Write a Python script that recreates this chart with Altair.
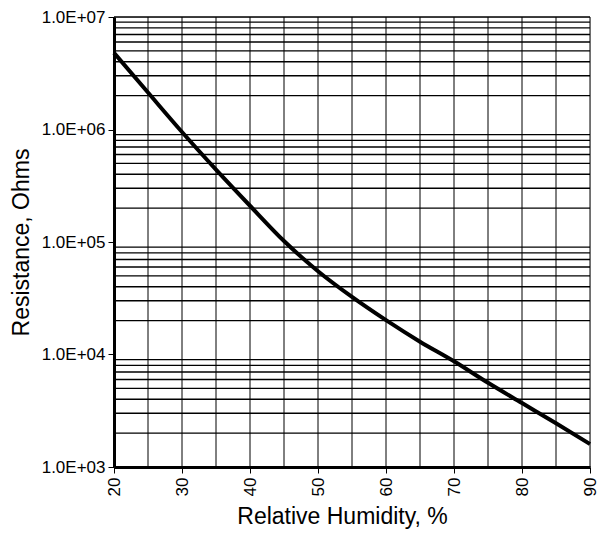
import altair as alt
import pandas as pd

humidity = [20, 25, 30, 35, 40, 45, 50, 55, 60, 65, 70, 75, 80, 85, 90]
resistance = [4.8e6, 2.13e6, 9.5e5, 4.4e5, 2.1e5, 1.02e5, 5.5e4, 3.25e4, 2.02e4, 1.3e4, 8.7e3, 5.6e3, 3.7e3, 2.45e3, 1.6e3]

x_ticks = [20, 30, 40, 50, 60, 70, 80, 90]
x_grid = [25, 30, 35, 40, 45, 50, 55, 60, 65, 70, 75, 80, 85, 90]
y_ticks = [1e3, 1e4, 1e5, 1e6, 1e7]
y_grid = [m * 10 ** e for e in range(3, 7) for m in range(2, 10)] + [1e7]

curve = pd.DataFrame({"h": humidity, "r": resistance})
hgrid = pd.DataFrame({"r": y_grid})
vgrid = pd.DataFrame({"h": x_grid})

xscale = alt.Scale(domain=[20, 90], nice=False, zero=False)
yscale = alt.Scale(type="log", domain=[1e3, 1e7], nice=False)

font = "Liberation Sans"

hrules = alt.Chart(hgrid).mark_rule(color="black", strokeWidth=1.4).encode(
    y=alt.Y("r:Q", scale=yscale)
)
vrules = alt.Chart(vgrid).mark_rule(color="black", strokeWidth=1).encode(
    x=alt.X("h:Q", scale=xscale)
)

line = alt.Chart(curve).mark_line(color="black", strokeWidth=4, interpolate="monotone").encode(
    x=alt.X(
        "h:Q",
        scale=xscale,
        axis=alt.Axis(
            values=x_ticks,
            title="Relative Humidity, %",
            titleX=228,
            labelAngle=270,
            labelAlign="right",
            labelBaseline="middle",
            labelPadding=4,
            titlePadding=10,
            grid=False,
            domainColor="black",
            domainWidth=3,
            tickColor="black",
            tickSize=6,
            labelColor="black",
            titleColor="black",
            labelFont=font,
            titleFont=font,
            labelFontSize=17,
            titleFontSize=23,
            titleFontWeight="normal",
        ),
    ),
    y=alt.Y(
        "r:Q",
        scale=yscale,
        axis=alt.Axis(
            values=y_ticks,
            title="Resistance, Ohms",
            labelExpr="'1.0E+0' + round(log(datum.value) / LN10)",
            grid=False,
            domainColor="black",
            domainWidth=3,
            tickColor="black",
            tickSize=6,
            labelPadding=3,
            titlePadding=8,
            labelColor="black",
            titleColor="black",
            labelFont=font,
            titleFont=font,
            labelFontSize=17,
            titleFontSize=23,
            titleFontWeight="normal",
        ),
    ),
)

chart = (
    alt.layer(hrules, vrules, line)
    .properties(
        width=476,
        height=450,
        autosize=alt.AutoSizeParams(type="none"),
        padding={"left": 106, "top": 9, "right": 8, "bottom": 64},
    )
    .configure_view(stroke=None)
    .configure(background="white")
)

chart.save("out.html", embed_options={"renderer": "svg", "actions": False})
